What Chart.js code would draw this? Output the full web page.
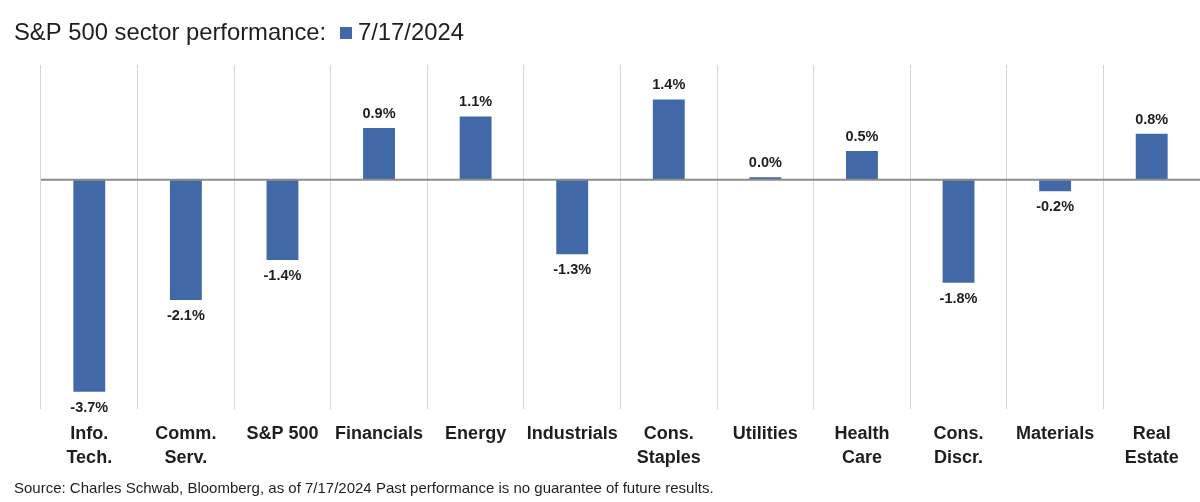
<!DOCTYPE html>
<html>
<head>
<meta charset="utf-8">
<script src="https://cdn.jsdelivr.net/npm/chart.js@4/dist/chart.umd.min.js"></script>
<style>
  html, body { margin: 0; padding: 0; background: #fff; }
  #wrap { width: 1200px; height: 502px; position: relative; }
</style>
</head>
<body>
<div id="wrap"><canvas id="sectorChart"></canvas></div>
<script>
// ===== Sector performance chart =====

const sectors = [
  ['Info.', 'Tech.'], ['Comm.', 'Serv.'], 'S&P 500', 'Financials', 'Energy', 'Industrials',
  ['Cons.', 'Staples'], 'Utilities', ['Health', 'Care'], ['Cons.', 'Discr.'], 'Materials', ['Real', 'Estate']
];
const performance = [-3.7, -2.1, -1.4, 0.9, 1.1, -1.3, 1.4, 0.04, 0.5, -1.8, -0.2, 0.8];
const seriesName = '7/17/2024';
const chartTitle = 'S&P 500 sector performance:';
const sourceNote = 'Source: Charles Schwab, Bloomberg, as of 7/17/2024 Past performance is no guarantee of future results.';

const barColor = '#4169a8';
const font = '"Liberation Sans", Arial, sans-serif';

// Value labels, zero line, title, legend and source
const extras = {
  id: 'extras',
  afterDatasetsDraw(chart) {
    const { ctx, chartArea } = chart;
    const y = chart.scales.y;
    const zero = y.getPixelForValue(0);

    ctx.save();
    ctx.strokeStyle = '#8c8c8c';
    ctx.lineWidth = 2;
    ctx.beginPath();
    ctx.moveTo(chartArea.left, zero);
    ctx.lineTo(chartArea.right + 2, zero);
    ctx.stroke();

    ctx.fillStyle = '#1e1e1e';
    ctx.font = 'bold 14.5px ' + font;
    ctx.textAlign = 'center';
    chart.getDatasetMeta(0).data.forEach((bar, i) => {
      const v = performance[i];
      const txt = v.toFixed(1) + '%';
      if (v >= 0) {
        ctx.textBaseline = 'bottom';
        ctx.fillText(txt, bar.x, bar.y - 7);
      } else {
        ctx.textBaseline = 'top';
        ctx.fillText(txt, bar.x, bar.y + 9);
      }
    });

    ctx.textAlign = 'left';
    ctx.textBaseline = 'middle';
    ctx.font = '23.8px ' + font;
    ctx.fillStyle = '#1e1e1e';
    ctx.fillText(chartTitle, 14, 33);
    ctx.fillStyle = barColor;
    ctx.fillRect(340, 27, 12, 12);
    ctx.fillStyle = '#1e1e1e';
    ctx.fillText(seriesName, 358, 33);

    ctx.font = '15px ' + font;
    ctx.fillText(sourceNote, 14, 489);
    ctx.restore();
  }
};

new Chart(document.getElementById('sectorChart'), {
  type: 'bar',
  data: {
    labels: sectors,
    datasets: [{
      label: seriesName,
      data: performance,
      backgroundColor: barColor,
      barPercentage: 0.33,
      categoryPercentage: 1
    }]
  },
  options: {
    responsive: true,
    maintainAspectRatio: false,
    animation: false,
    layout: { padding: { left: 41, top: 65, right: 0, bottom: 0 } },
    plugins: { legend: { display: false }, tooltip: { enabled: false } },
    scales: {
      x: {
        offset: true,
        grid: { offset: true, color: '#d4d4d4', lineWidth: 1, drawTicks: false },
        border: { display: false },
        ticks: {
          color: '#1e1e1e',
          padding: 14,
          maxRotation: 0,
          autoSkip: false,
          font: { family: font, size: 18, weight: 'bold', lineHeight: 1.28 }
        },
        afterFit(scale) { scale.height = 93; }
      },
      y: {
        display: false,
        min: -4,
        max: 2
      }
    }
  },
  plugins: [extras]
});
</script>
</body>
</html>
